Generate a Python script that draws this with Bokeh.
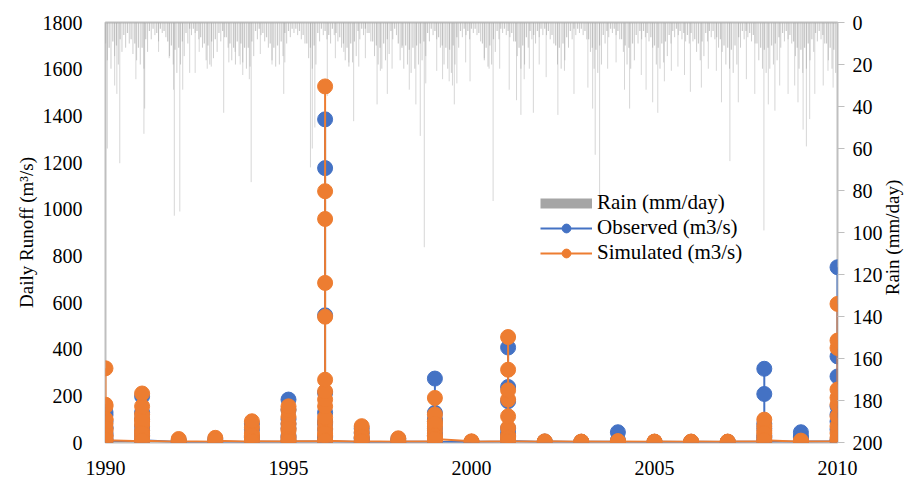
import math
from bokeh.plotting import figure
from bokeh.models import Range1d, LinearAxis, Legend, LegendItem, FixedTicker, Label
from bokeh.embed import file_html
from bokeh.resources import INLINE

# ---------------- data ----------------
years = list(range(1990, 2011))

observed = [
    [3, 15, 40, 65, 90, 118, 130, 60, 30, 8],            # 1990
    [5, 30, 70, 128, 198, 100, 50, 10],                  # 1991
    [2, 10, 3],                                          # 1992
    [2, 15, 4],                                          # 1993
    [2, 25, 55, 80, 20, 3],                              # 1994
    [3, 30, 60, 100, 140, 184, 80, 20, 5],               # 1995
    [4, 25, 55, 90, 128, 213, 545, 1176, 1385, 80, 20, 5],  # 1996
    [2, 15, 40, 60, 20, 3],                              # 1997
    [2, 15, 3],                                          # 1998
    [3, 30, 60, 91, 127, 274, 100, 40, 3],               # 1999
    [2, 3],                                              # 2000
    [4, 25, 60, 177, 238, 407, 40, 6],                   # 2001
    [2, 4],                                              # 2002
    [2, 3],                                              # 2003
    [3, 44, 10, 3],                                      # 2004
    [2, 3],                                              # 2005
    [2, 3],                                              # 2006
    [2, 3],                                              # 2007
    [4, 30, 60, 208, 316, 80, 20, 5],                    # 2008
    [3, 27, 44, 20, 4],                                  # 2009
    [5, 56, 90, 155, 283, 369, 751, 120, 10],            # 2010
]

simulated = [
    [5, 25, 50, 80, 98, 162, 318, 155, 100, 60, 30, 10],            # 1990
    [5, 25, 50, 75, 100, 120, 155, 210, 90, 40, 8],                 # 1991
    [3, 15, 5],                                                     # 1992
    [3, 20, 8],                                                     # 1993
    [3, 20, 40, 65, 91, 30, 5],                                     # 1994
    [4, 25, 50, 80, 110, 140, 155, 60, 15, 5],                      # 1995
    [5, 30, 60, 85, 107, 155, 184, 219, 269, 539, 684, 958, 1077, 1526, 40, 8],  # 1996
    [3, 20, 45, 70, 25, 5],                                         # 1997
    [3, 18, 5],                                                     # 1998
    [4, 25, 50, 70, 90, 120, 191, 80, 30, 15],                      # 1999
    [5, 3],                                                         # 2000
    [5, 30, 63, 112, 184, 224, 312, 452, 20, 5],                    # 2001
    [3, 5],                                                         # 2002
    [3, 4],                                                         # 2003
    [3, 6, 4],                                                      # 2004
    [3, 4],                                                         # 2005
    [3, 4],                                                         # 2006
    [3, 4],                                                         # 2007
    [4, 25, 50, 70, 98, 40, 10],                                    # 2008
    [3, 8, 4],                                                      # 2009
    [5, 40, 70, 112, 162, 192, 227, 405, 437, 594, 20],             # 2010
]

# distinct larger daily rain events (date as decimal year, mm/day)
rain_event_date = [
    1990.05, 1990.25, 1990.31, 1990.39, 1990.83, 1991.05, 1991.07, 1991.45, 1991.74, 1991.86,
    1991.88, 1992.03, 1992.11, 1992.30, 1992.45, 1992.56, 1992.78, 1992.89, 1993.23, 1993.37,
    1993.54, 1993.68, 1993.75, 1993.93, 1993.98, 1994.23, 1994.55, 1994.87, 1994.90, 1995.60,
    1995.65, 1995.72, 1996.06, 1996.28, 1996.51, 1996.65, 1996.78, 1996.92, 1997.10, 1997.42,
    1997.51, 1997.70, 1997.83, 1998.11, 1998.30, 1998.48, 1998.60, 1998.71, 1998.75, 1999.05,
    1999.21, 1999.39, 1999.48, 1999.53, 1999.60, 1999.84, 1999.96, 2000.35, 2000.48, 2000.59,
    2000.77, 2001.03, 2001.23, 2001.35, 2001.44, 2001.58, 2001.69, 2001.85, 2002.04, 2002.36,
    2002.54, 2002.80, 2003.18, 2003.31, 2003.38, 2003.50, 2003.72, 2003.95, 2004.18, 2004.32,
    2004.64, 2004.77, 2004.95, 2005.09, 2005.27, 2005.46, 2005.64, 2005.82, 2005.98, 2006.28,
    2006.47, 2006.69, 2006.83, 2007.06, 2007.29, 2007.51, 2007.74, 2007.99, 2008.11, 2008.29,
    2008.42, 2008.65, 2008.83, 2008.92, 2009.06, 2009.15, 2009.24, 2009.38, 2009.61, 2009.74,
    2009.88,
]
rain_event_mm = [
    60, 30, 34, 67, 27, 53, 41, 14, 17, 32,
    92, 90, 32, 24, 24, 14, 22, 21, 43, 19,
    14, 20, 25, 27, 76, 15, 20, 34, 19, 69,
    60, 50, 35, 17, 14, 19, 47, 21, 17, 39,
    23, 34, 22, 11, 32, 39, 54, 107, 29, 23,
    27, 28, 30, 39, 29, 19, 28, 17, 22, 85,
    22, 32, 37, 44, 27, 22, 43, 20, 26, 44,
    23, 34, 31, 41, 63, 82, 22, 19, 32, 41,
    25, 32, 38, 43, 28, 23, 21, 25, 33, 31,
    22, 23, 38, 66, 38, 27, 34, 99, 39, 42,
    30, 34, 30, 38, 51, 59, 46, 34, 30, 23,
    31,
]

# background daily rain, one value per tenth of a year (1990.05 ... 2009.95)
rain_base_mm = [
    18, 22, 16, 20, 14, 12, 10, 15, 18, 20,
    22, 14, 8, 6, 9, 5, 7, 16, 20, 24,
    20, 16, 10, 6, 5, 8, 12, 18, 20, 17,
    14, 9, 7, 12, 18, 20, 16, 19, 22, 21,
    16, 8, 6, 9, 12, 18, 21, 20, 16, 10,
    7, 5, 6, 8, 10, 17, 22, 20, 9, 6,
    8, 10, 6, 9, 12, 18, 21, 19, 16, 8,
    6, 5, 9, 16, 20, 22, 18, 15, 8, 6,
    18, 22, 20, 24, 22, 20, 18, 16, 9, 6,
    8, 12, 20, 22, 24, 20, 12, 7, 6, 8,
    5, 6, 9, 18, 21, 20, 14, 8, 5, 6,
    7, 9, 16, 22, 20, 12, 8, 10, 7, 6,
    6, 8, 10, 20, 22, 18, 12, 8, 6, 5,
    6, 8, 14, 22, 24, 20, 10, 7, 5, 6,
    8, 14, 20, 22, 18, 10, 8, 7, 9, 12,
    20, 22, 19, 16, 10, 7, 6, 8, 9, 10,
    9, 14, 18, 16, 9, 7, 8, 12, 14, 20,
    22, 24, 20, 12, 8, 7, 9, 10, 18, 22,
    24, 22, 20, 18, 12, 9, 8, 10, 16, 22,
    24, 22, 18, 14, 9, 8, 10, 18, 22, 24,
]
rain_base_date = [1990.05 + 0.1 * i for i in range(len(rain_base_mm))]

# small daily rain between the above, one value per tenth of a year (1990.00 ... 2009.90)
rain_small_mm = [
    10, 12, 9, 11, 8, 6, 5, 8, 10, 12,
    12, 8, 4, 3, 5, 3, 4, 9, 11, 13,
    12, 9, 5, 3, 3, 4, 7, 10, 11, 9,
    8, 5, 4, 7, 10, 12, 9, 10, 12, 12,
    9, 4, 3, 5, 7, 10, 12, 11, 9, 5,
    4, 3, 3, 4, 6, 10, 12, 11, 5, 3,
    4, 6, 3, 5, 7, 10, 12, 10, 9, 4,
    3, 3, 5, 9, 11, 12, 10, 8, 4, 3,
    10, 12, 11, 13, 12, 11, 10, 9, 5, 3,
    4, 7, 11, 12, 13, 11, 7, 4, 3, 4,
    3, 3, 5, 10, 12, 11, 8, 4, 3, 3,
    4, 5, 9, 12, 11, 7, 4, 6, 4, 3,
    3, 4, 6, 11, 12, 10, 7, 4, 3, 3,
    3, 4, 8, 12, 13, 11, 6, 4, 3, 3,
    4, 8, 11, 12, 10, 6, 4, 4, 5, 7,
    11, 12, 10, 9, 6, 4, 3, 4, 5, 6,
    5, 8, 10, 9, 5, 4, 4, 7, 8, 11,
    12, 13, 11, 7, 4, 4, 5, 6, 10, 12,
    13, 12, 11, 10, 7, 5, 4, 6, 9, 12,
    13, 12, 10, 8, 5, 4, 6, 10, 12, 13,
]
rain_small_date = [1990.0 + 0.1 * i for i in range(len(rain_small_mm))]

x_ticks = [1990, 1995, 2000, 2005, 2010]
runoff_ticks = list(range(0, 1801, 200))
rain_ticks = list(range(0, 201, 20))

# ---------------- styling ----------------
FONT = "Liberation Serif"
BLUE = "#4472C4"
ORANGE = "#ED7D31"
GRAY = "#A5A5A5"
AXIS_GRAY = "#BFBFBF"

p = figure(width=912, height=477,
           x_range=Range1d(1990, 2010), y_range=Range1d(0, 1800),
           output_backend="svg", toolbar_location=None,
           min_border_left=105, min_border_right=75,
           min_border_top=22, min_border_bottom=34)
p.extra_y_ranges = {"rain": Range1d(start=200, end=0)}

p.xgrid.visible = False
p.ygrid.visible = False
p.outline_line_color = AXIS_GRAY
p.outline_line_width = 2
p.background_fill_color = "white"
p.border_fill_color = "white"

# rain bars hanging from the top
p.segment(x0=rain_small_date, y0=[0] * len(rain_small_mm), x1=rain_small_date, y1=rain_small_mm,
          y_range_name="rain", line_color=GRAY, line_alpha=0.6, line_width=1.2)
p.segment(x0=rain_base_date, y0=[0] * len(rain_base_mm), x1=rain_base_date, y1=rain_base_mm,
          y_range_name="rain", line_color=GRAY, line_alpha=0.55, line_width=1)
p.segment(x0=rain_event_date, y0=[0] * len(rain_event_mm), x1=rain_event_date, y1=rain_event_mm,
          y_range_name="rain", line_color=GRAY, line_alpha=0.45, line_width=1)

def flatten(series):
    xs, vs = [], []
    for yr, vals in zip(years, series):
        for v in vals:
            xs.append(yr)
            vs.append(v)
    return xs, vs

ox, ov = flatten(observed)
sx, sv = flatten(simulated)

p.line(ox, ov, line_color=BLUE, line_width=2)
p.scatter(ox, ov, size=15, fill_color=BLUE, line_color=BLUE)
p.line(sx, sv, line_color=ORANGE, line_width=2)
p.scatter(sx, sv, size=15, fill_color=ORANGE, line_color=ORANGE)

# axes
def style_axis(ax):
    ax.major_label_text_font = FONT
    ax.major_label_text_font_size = "20px"
    ax.major_label_text_color = "black"
    ax.axis_label_text_font = FONT
    ax.axis_label_text_font_size = "19px"
    ax.axis_label_text_font_style = "normal"
    ax.axis_label_text_color = "black"
    ax.minor_tick_line_color = None
    ax.axis_line_color = None

p.xaxis.ticker = FixedTicker(ticks=x_ticks)
p.yaxis.ticker = FixedTicker(ticks=runoff_ticks)
style_axis(p.xaxis[0])
style_axis(p.yaxis[0])
p.xaxis.major_tick_line_color = None
p.yaxis.major_tick_line_color = None
p.xaxis.major_label_standoff = 12
p.yaxis.major_label_standoff = 17
p.yaxis.axis_label = "Daily Runoff (m³/s)"
p.yaxis.axis_label_standoff = 3

rain_axis = LinearAxis(y_range_name="rain", ticker=FixedTicker(ticks=rain_ticks))
style_axis(rain_axis)
rain_axis.major_tick_line_color = AXIS_GRAY
rain_axis.major_tick_out = 7
rain_axis.major_tick_in = 0
rain_axis.major_label_standoff = 8
p.add_layout(rain_axis, "right")

# right axis title, reading bottom to top like the left one (placed in the right side panel)
rain_title = Label(x=7, y=205, x_units="screen", y_units="screen",
                   text="Rain (mm/day)", angle=math.pi / 2, angle_units="rad",
                   text_align="center", text_baseline="middle",
                   text_font=FONT, text_font_size="19px", text_color="black")
p.add_layout(rain_title, "right")

# legend swatches (renderers whose points lie outside the visible ranges)
lg_rain = p.line([1980, 1981], [-500, -500], line_color=GRAY, line_width=10)
lg_ol = p.line([1980, 1981], [-500, -500], line_color=BLUE, line_width=2)
lg_oc = p.scatter([1980], [-500], size=11, fill_color=BLUE, line_color=BLUE)
lg_sl = p.line([1980, 1981], [-500, -500], line_color=ORANGE, line_width=2)
lg_sc = p.scatter([1980], [-500], size=11, fill_color=ORANGE, line_color=ORANGE)

legend = Legend(items=[
    LegendItem(label="Rain (mm/day)", renderers=[lg_rain]),
    LegendItem(label="Observed (m3/s)", renderers=[lg_ol, lg_oc]),
    LegendItem(label="Simulated (m3/s)", renderers=[lg_sl, lg_sc]),
], location=(435, 177))
legend.label_text_font = FONT
legend.label_text_font_size = "21px"
legend.label_text_color = "black"
legend.glyph_width = 52
legend.glyph_height = 22
legend.label_height = 22
legend.label_standoff = 5
legend.spacing = -4
legend.padding = 0
legend.margin = 0
legend.border_line_color = None
legend.background_fill_alpha = 0
p.add_layout(legend)

open("out.html", "w").write(file_html(p, INLINE))
